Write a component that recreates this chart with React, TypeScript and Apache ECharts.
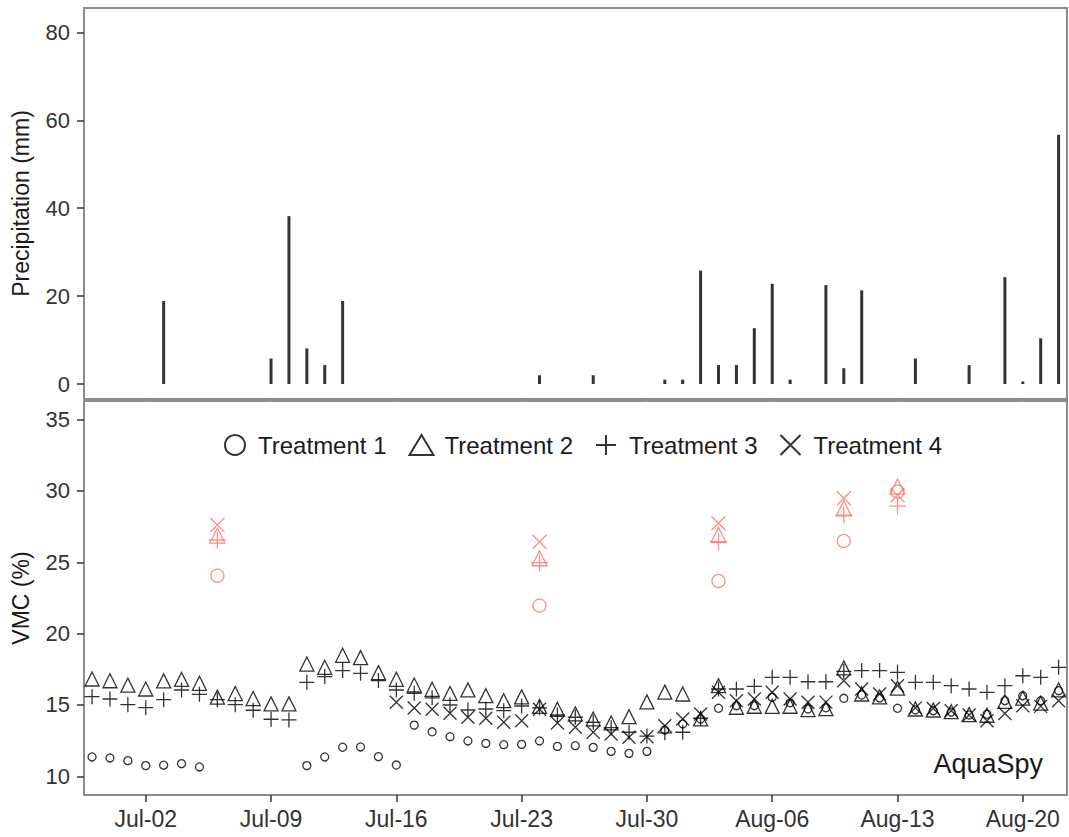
import React, { useEffect, useRef } from "react";
import * as echarts from "echarts";

// ---------- data ----------
const precipDates = [
  "07-03", "07-09", "07-10", "07-11", "07-12", "07-13", "07-24", "07-27",
  "07-31", "08-01", "08-02", "08-03", "08-04", "08-05", "08-06", "08-07",
  "08-09", "08-10", "08-11", "08-14", "08-17", "08-19", "08-20", "08-21", "08-22",
];
const precipMm = [
  18.9, 5.8, 38.2, 8.1, 4.3, 18.9, 2.0, 2.0,
  1.0, 1.0, 25.8, 4.3, 4.3, 12.7, 22.8, 1.0,
  22.5, 3.6, 21.3, 5.8, 4.3, 24.3, 0.6, 10.4, 56.7,
];

const vmcDates = [
  "06-29", "06-30",
  "07-01", "07-02", "07-03", "07-04", "07-05", "07-06", "07-07", "07-08", "07-09", "07-10",
  "07-11", "07-12", "07-13", "07-14", "07-15", "07-16", "07-17", "07-18", "07-19", "07-20",
  "07-21", "07-22", "07-23", "07-24", "07-25", "07-26", "07-27", "07-28", "07-29", "07-30", "07-31",
  "08-01", "08-02", "08-03", "08-04", "08-05", "08-06", "08-07", "08-08", "08-09", "08-10",
  "08-11", "08-12", "08-13", "08-14", "08-15", "08-16", "08-17", "08-18", "08-19", "08-20",
  "08-21", "08-22",
];
const treatment1 = [
  11.36, 11.29, 11.10, 10.75, 10.78, 10.89, 10.66, null, null, null, null, null,
  10.75, 11.36, 12.04, 12.06, 11.38, 10.79, 13.59, 13.12, 12.78, 12.48,
  12.31, 12.22, 12.24, 12.48, 12.10, 12.15, 12.03, 11.75, 11.61, 11.75,
  13.25, 13.67, 14.02, 14.77, 14.95, 14.95, 15.54, 15.15, 14.72, 14.80,
  15.47, 15.70, 15.50, 14.77, 14.65, 14.60, 14.50, 14.30, 14.35, 15.30,
  15.65, 15.30, 16.00,
];
const treatment2 = [
  16.82, 16.70, 16.39, 16.12, 16.69, 16.79, 16.52, 15.55, 15.80, 15.45, 15.08, 15.08,
  17.87, 17.64, 18.48, 18.32, 17.27, 16.80, 16.40, 16.10, 15.81, 16.06,
  15.65, 15.30, 15.57, 14.90, 14.70, 14.38, 14.02, 13.74, 14.18, 15.22,
  15.90, 15.77, 14.02, 16.35, 14.84, 14.91, 14.90, 14.91, 14.67, 14.74,
  17.60, 15.77, 15.57, 16.18, 14.72, 14.65, 14.53, 14.33, 14.28, 15.25,
  15.48, 15.13, 16.06,
];
const treatment3 = [
  15.58, 15.42, 15.02, 14.81, 15.37, 16.05, 15.75, 15.37, 15.02, 14.63, 14.00, 13.95,
  16.59, 16.99, 17.41, 17.22, 16.71, 16.05, 15.82, 15.50, 15.00, 14.65,
  14.72, 14.60, 14.93, 14.80, 14.30, 14.14, 13.79, 13.41, 13.09, 12.82,
  13.05, 13.09, 14.07, 16.12, 16.12, 16.31, 16.94, 16.94, 16.63, 16.63,
  17.35, 17.41, 17.41, 17.29, 16.59, 16.59, 16.35, 16.12, 15.89, 16.35,
  17.05, 16.94, 17.64,
];
const treatment4 = [
  null, null, null, null, null, null, null, null, null, null, null, null,
  null, null, null, null, null, 15.19, 14.79, 14.70, 14.42, 14.14,
  14.07, 13.79, 13.90, 14.70, 13.74, 13.44, 13.09, 12.97, 12.74, 12.78,
  13.55, 14.02, 14.37, 15.89, 15.30, 15.42, 15.89, 15.42, 15.19, 15.20,
  16.70, 16.12, 15.77, 16.35, 14.80, 14.75, 14.60, 14.30, 13.90, 14.40,
  14.95, 14.90, 15.30,
];

const labDates = ["07-06", "07-24", "08-03", "08-10", "08-13"];
const labT1 = [24.06, 21.96, 23.69, 26.49, 29.95];
const labT2 = [26.87, 25.28, 26.91, 28.78, 30.30];
const labT3 = [26.56, 24.97, 26.44, 28.31, 28.94];
const labT4 = [27.61, 26.44, 27.73, 29.48, 29.70];

const tickDates = ["07-02", "07-09", "07-16", "07-23", "07-30", "08-06", "08-13", "08-20"];
const tickLabels = ["Jul-02", "Jul-09", "Jul-16", "Jul-23", "Jul-30", "Aug-06", "Aug-13", "Aug-20"];
const precipTicks = [0, 20, 40, 60, 80];
const vmcTicks = [10, 15, 20, 25, 30, 35];
const treatmentNames = ["Treatment 1", "Treatment 2", "Treatment 3", "Treatment 4"];

// ---------- helpers ----------
const dayOf = (md: string) => {
  const [m, d] = md.split("-").map(Number);
  return (Date.UTC(2018, m - 1, d) - Date.UTC(2018, 6, 1)) / 86400000;
};
const pts = (dates: string[], vals: (number | null)[]) =>
  dates.map((d, i) => [dayOf(d), vals[i]]).filter((p) => p[1] != null);

const FONT = "'Liberation Sans', Arial, sans-serif";
const X_MIN = -2.45;
const X_MAX = 52.47;
const RED = "#F8766D";
const BORDER = "#8c8c8c";
const TICK = "#333333";
const TEXT = "#1a1a1a";

const plusPath = "path://M0,10L20,10M10,0L10,20";
const crossPath = "path://M0,0L20,20M20,0L0,20";
const symbols = ["circle", "triangle", plusPath, crossPath];
const blackSizes = [8, 14, 15, 13];
const redSizes = [13, 15, 17, 14];
const blackVals = [treatment1, treatment2, treatment3, treatment4];
const labVals = [labT1, labT2, labT3, labT4];

const tickDays = tickDates.map(dayOf);
const labelFor = (v: number) => {
  const i = tickDays.findIndex((t) => Math.abs(t - v) < 1e-6);
  return i >= 0 ? tickLabels[i] : "";
};

export default function App() {
  const ref = useRef<HTMLDivElement>(null);
  useEffect(() => {
    const chart = echarts.init(ref.current!, null, { renderer: "svg" });

    const blackSeries = treatmentNames.map((name, k) => ({
      name,
      type: "scatter",
      xAxisIndex: 1,
      yAxisIndex: 1,
      symbol: symbols[k],
      symbolSize: blackSizes[k],
      data: pts(vmcDates, blackVals[k]),
      itemStyle: { color: "transparent", borderColor: "#000", borderWidth: 1.3 },
      emphasis: { disabled: true },
      z: 3,
    }));
    const redSeries = treatmentNames.map((name, k) => ({
      name: name + " (lab)",
      type: "scatter",
      xAxisIndex: 1,
      yAxisIndex: 1,
      symbol: symbols[k],
      symbolSize: redSizes[k],
      data: pts(labDates, labVals[k]),
      itemStyle: { color: "transparent", borderColor: RED, borderWidth: 1.3 },
      emphasis: { disabled: true },
      z: 4,
    }));

    const yAxisBase = (gridIndex: number, min: number, max: number, name: string, ticks: number[]) => ({
      gridIndex, type: "value", min, max,
      name, nameLocation: "middle", nameGap: 52,
      nameTextStyle: { fontSize: 23, color: TEXT, fontFamily: FONT },
      axisLine: { show: true, onZero: false, lineStyle: { color: BORDER, width: 2 } },
      splitLine: { show: false },
      axisTick: { show: true, customValues: ticks, length: 7, lineStyle: { color: TICK, width: 1.5 } },
      axisLabel: { customValues: ticks, margin: 14, fontSize: 22, color: TICK, fontFamily: FONT },
    });

    chart.setOption({
      animation: false,
      backgroundColor: "#ffffff",
      textStyle: { fontFamily: FONT },
      grid: [
        { left: 84, top: 8, width: 983, height: 391, show: true, borderColor: BORDER, borderWidth: 2, outerBoundsMode: "none" },
        { left: 84, top: 401, width: 983, height: 394, show: true, borderColor: BORDER, borderWidth: 2, outerBoundsMode: "none" },
      ],
      xAxis: [
        {
          gridIndex: 0, type: "value", min: X_MIN, max: X_MAX,
          axisLine: { show: true, onZero: false, lineStyle: { color: BORDER, width: 2 } },
          splitLine: { show: false },
          axisLabel: { show: false },
          axisTick: { show: true, customValues: tickDays, length: 3, lineStyle: { color: "#999", width: 1 } },
        },
        {
          gridIndex: 1, type: "value", min: X_MIN, max: X_MAX,
          axisLine: { show: true, onZero: false, lineStyle: { color: BORDER, width: 2 } },
          splitLine: { show: false },
          axisTick: { show: true, customValues: tickDays, length: 7, lineStyle: { color: TICK, width: 1.5 } },
          axisLabel: {
            customValues: tickDays, formatter: (v: number) => labelFor(v),
            margin: 12, fontSize: 23, color: TICK, fontFamily: FONT,
          },
        },
      ],
      yAxis: [
        yAxisBase(0, -3.41, 85.55, "Precipitation (mm)", precipTicks),
        yAxisBase(1, 8.693, 36.3, "VMC (%)", vmcTicks),
      ],
      legend: {
        data: treatmentNames,
        left: 219,
        top: 428,
        itemWidth: 24,
        itemHeight: 20,
        itemGap: 22,
        selectedMode: false,
        textStyle: { fontSize: 24, color: TEXT, fontFamily: FONT, padding: [0, 0, 0, 6] },
      },
      graphic: [
        {
          type: "text", x: 1043, y: 764,
          style: { text: "AquaSpy", fontSize: 27, fontFamily: FONT, fill: TEXT, align: "right", verticalAlign: "middle" },
        },
      ],
      series: [
        {
          name: "Precipitation",
          type: "bar",
          xAxisIndex: 0,
          yAxisIndex: 0,
          barWidth: 3,
          data: pts(precipDates, precipMm),
          itemStyle: { color: "#333333" },
          emphasis: { disabled: true },
        },
        ...blackSeries,
        ...redSeries,
      ],
    });
    return () => chart.dispose();
  }, []);
  return (
    <div
      ref={ref}
      style={{ position: "absolute", left: 0, top: 0, width: 1069, height: 837 }}
    />
  );
}
